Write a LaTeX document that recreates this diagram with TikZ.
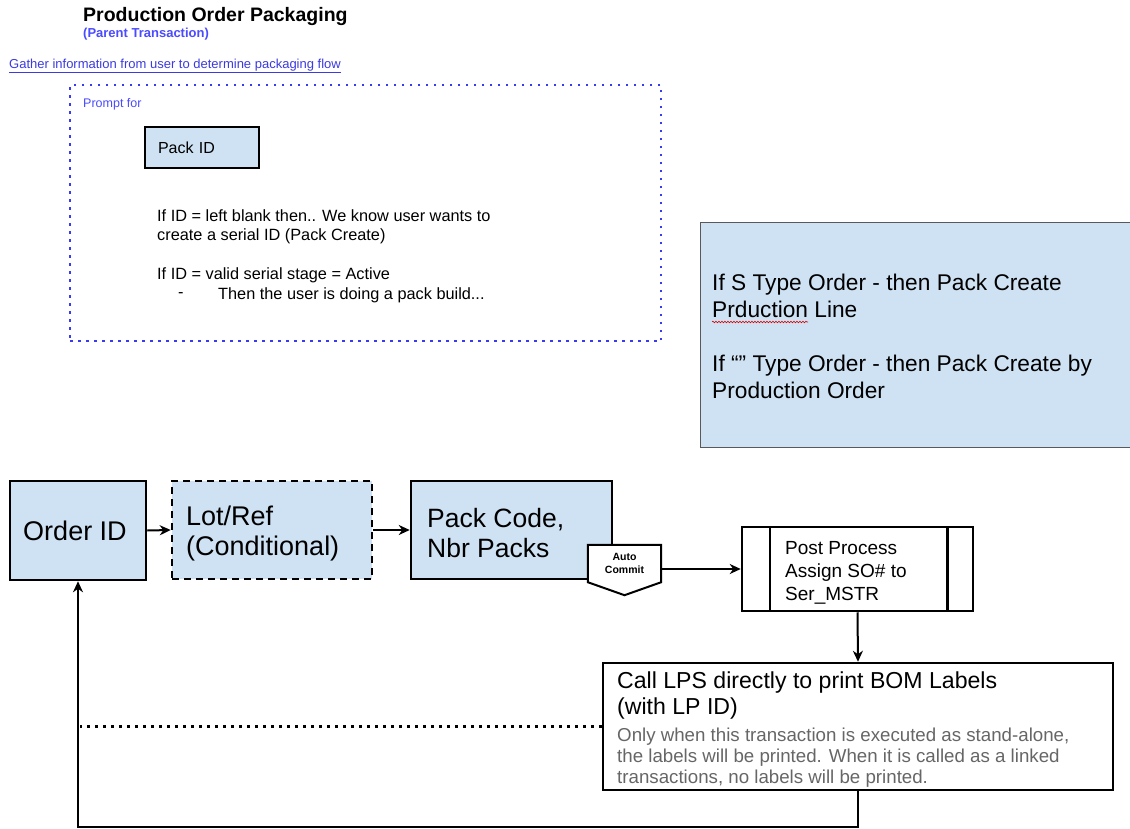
\documentclass[tikz,border=0pt]{standalone}
\usepackage{fontspec}
\setmainfont{Liberation Sans}
\usetikzlibrary{arrows.meta,decorations.pathmorphing,calc}
\definecolor{boxblue}{HTML}{CFE2F3}
\definecolor{linkblue}{HTML}{3B3BE0}
\definecolor{promptblue}{HTML}{4B4BFF}
\definecolor{dotblue}{HTML}{3A3AF0}
\definecolor{greytext}{HTML}{666666}
\definecolor{edgegrey}{HTML}{595959}
\newcommand{\fsz}[2]{\fontsize{#1}{#2}\selectfont}
\begin{document}
\begin{tikzpicture}[x=1pt,y=-1pt,
  stepbox/.style={draw=black, line width=2.5pt, fill=boxblue, inner sep=0pt},
  txt/.style={inner sep=0pt, anchor=west, align=left},
  conn/.style={line width=2pt, -{Stealth[length=11pt,width=10pt,inset=3.5pt]}},
  dotline/.style={line width=2.5pt, dash pattern=on 2.5pt off 5.5pt}]
\clip (0,0) rectangle (1130,828);
\fill[white] (0,0) rectangle (1130,828);

% header
\node[txt, font=\bfseries\fsz{19.5}{22}] (title) at (83,16) {Production Order Packaging};
\node[txt, font=\bfseries\fsz{13}{15}, text=promptblue] (parent) at (83,34) {(Parent Transaction)};
\node[txt, font=\fsz{13}{15}, text=linkblue] (gather) at (9,66) {\underline{Gather information from user to determine packaging flow}};

% prompt area
\node[draw=dotblue, dotline, minimum width=591, minimum height=256, inner sep=0pt] (promptarea) at (365.5,213) {};
\node[txt, font=\fsz{12.5}{15}, text=promptblue] (promptfor) at (83,104) {Prompt for};
\node[stepbox, minimum width=114, minimum height=41, text width=88, inner xsep=13, align=left, font=\fsz{16}{19}] (packid) at (202,147.5) {Pack ID};
\node[txt, font=\fsz{16.3}{19}] (d1) at (157,216) {If ID = left blank then.. We know user wants to};
\node[txt, font=\fsz{16.3}{19}] (d2) at (157,236) {create a serial ID (Pack Create)};
\node[txt, font=\fsz{16.3}{19}] (d3) at (157,275) {If ID = valid serial stage = Active};
\node[txt, font=\fsz{16.3}{19}] (d4) at (178,295) {-};
\node[txt, font=\fsz{16.3}{19}] (d5) at (218,295) {Then the user is doing a pack build...};

% rule box
\node[draw=edgegrey, line width=1pt, fill=boxblue, minimum width=440, minimum height=225, inner sep=0pt, anchor=north west] (rule) at (700,222) {};
\node[txt, font=\fsz{22.7}{27}] (ruletext) at (712,336) {If S Type Order - then Pack Create\\Prduction Line\\[27pt]If “” Type Order - then Pack Create by\\Production Order};
\draw[red!85!black, line width=0.6pt, decorate, decoration={snake, amplitude=0.8pt, segment length=3pt}] (712,322) -- (808,322);

% flow
\node[stepbox, minimum width=136, minimum height=99] (orderid) at (78,530.5) {};
\node[txt, anchor=center, font=\fsz{27}{30}] (orderidtext) at (75,531) {Order ID};
\node[stepbox, dashed, dash pattern=on 7pt off 5pt, minimum width=200, minimum height=98] (lotref) at (272,530) {};
\node[txt, font=\fsz{27}{30}] (lotreftext) at (186,534) {Lot/Ref\\(Conditional)};
\node[stepbox, minimum width=201, minimum height=98] (packcode) at (511.5,530) {};
\node[txt, font=\fsz{26.5}{30}] (packcodetext) at (427,533) {Pack Code,\\Nbr Packs};

\node[inner sep=0pt, minimum width=73, minimum height=37] (autocommit) at (624.5,563.5) {};
\draw[fill=white, line width=2pt] (autocommit.north west) -- (autocommit.north east) -- (autocommit.south east) -- ($(autocommit.south)+(0,13)$) -- (autocommit.south west) -- cycle;
\node[inner sep=0pt, font=\bfseries\fsz{10.5}{13}, align=center] (actext) at (autocommit.center) {Auto\\Commit};

\node[draw, line width=2.5pt, fill=white, minimum width=231, minimum height=84] (postproc) at (857.5,569) {};
\node[txt, font=\fsz{19}{23}] (pptext) at (785,572.5) {Post Process\\Assign SO\# to\\Ser\_MSTR};
\draw[line width=2.5pt] ($(postproc.north west)+(29,0)$) -- ($(postproc.south west)+(29,0)$);
\draw[line width=2.5pt] ($(postproc.north east)+(-27,0)$) -- ($(postproc.south east)+(-27,0)$);

\node[draw, line width=2.5pt, fill=white, minimum width=510, minimum height=127, inner sep=0pt] (lps) at (858,726.5) {};
\node[txt, font=\fsz{23.1}{26}] (lpshead) at (617,696) {Call LPS directly to print BOM Labels\\(with LP ID)};
\node[txt, font=\fsz{18.7}{21}, text=greytext] (lpsnote) at (617,758) {Only when this transaction is executed as stand-alone,\\the labels will be printed. When it is called as a linked\\transactions, no labels will be printed.};

% connectors
\draw[conn] (orderid.east) -- (lotref.west);
\draw[conn] (lotref.east) -- (packcode.west);
\draw[conn] ($(autocommit.east)+(0,5.5)$) coordinate (acout) -- (acout -| postproc.west);
\draw[conn] (postproc.south) -- (lps.north);
\draw[conn] (lps.south) |- ($(orderid.south)+(0,245.5)$) -- (orderid.south);
\coordinate (dotend) at (80,726.5);
\draw[dotline] (lps.west) -- (dotend);
\end{tikzpicture}
\end{document}
